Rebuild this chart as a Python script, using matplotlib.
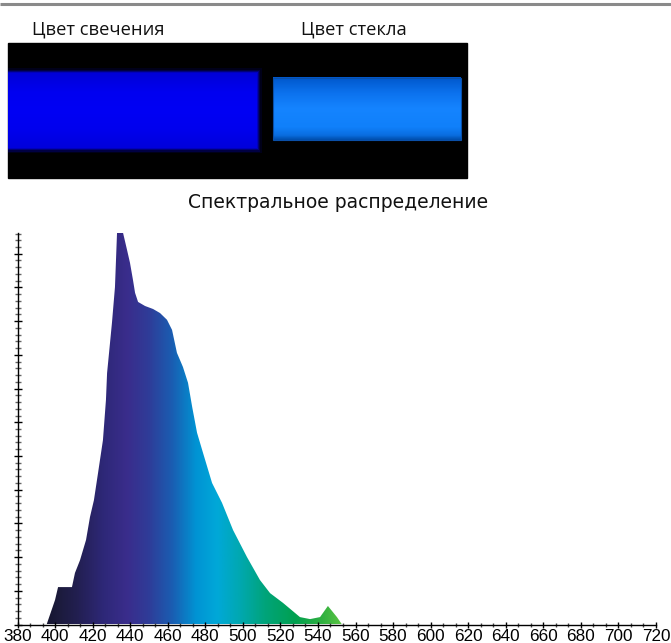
import numpy as np
import matplotlib
matplotlib.use("Agg")
import matplotlib.pyplot as plt
from matplotlib.colors import LinearSegmentedColormap
from matplotlib.patches import Rectangle, Polygon
from matplotlib.ticker import MultipleLocator

# ---------------- data ----------------
labels_top = ["Цвет свечения", "Цвет стекла"]
title = "Спектральное распределение"

wavelength = [395.5, 398.9, 400.0, 401.6, 409.0, 410.6, 413.3, 416.5, 418.6, 420.7,
              422.9, 425.5, 427.1, 427.7, 430.3, 431.9, 433.0, 436.2, 438.3, 439.9,
              441.5, 442.6, 444.2, 447.9, 452.2, 455.9, 459.6, 462.3, 464.9, 468.1,
              470.8, 473.0, 475.6, 478.8, 483.6, 488.9, 494.8, 502.2, 509.1, 514.5,
              521.4, 530.4, 535.8, 541.1, 545.3, 550.1, 552.8]
intensity = [0.00, 0.55, 0.73, 1.11, 1.11, 1.53, 1.91, 2.51, 3.19, 3.69,
             4.50, 5.47, 6.66, 7.46, 8.95, 10.01, 11.62, 11.62, 11.12, 10.73,
             10.22, 9.84, 9.57, 9.45, 9.36, 9.24, 9.04, 8.74, 8.06, 7.64,
             7.17, 6.46, 5.69, 5.09, 4.20, 3.61, 2.80, 2.00, 1.32, 0.93,
             0.64, 0.22, 0.16, 0.22, 0.55, 0.22, 0.00]
x_ticks = list(range(380, 721, 20))
x_min, x_max = 380, 720
y_min, y_max = 0, 11.63

# ---------------- figure ----------------
W, H = 671, 643
fig = plt.figure(figsize=(W / 100, H / 100), dpi=100)
fig.patch.set_facecolor("white")

# overlay axes in pixel coordinates for the header
hdr = fig.add_axes([0, 0, 1, 1])
hdr.set_xlim(0, W)
hdr.set_ylim(H, 0)
hdr.axis("off")
hdr.patch.set_alpha(0)

hdr.plot([0, W], [4, 4], color="#8a8a8a", lw=2.2, solid_capstyle="butt")
hdr.text(98, 29, labels_top[0], ha="center", va="center", fontsize=13.2,
         family="Open Sans", color="#111111")
hdr.text(354, 29, labels_top[1], ha="center", va="center", fontsize=13.2,
         family="Open Sans", color="#111111")

# black panel
hdr.add_patch(Rectangle((8.3, 43.3), 458.4, 134.4, color="black", zorder=1))

# glowing blue bar
for pad, a in [(5, 0.10), (3.5, 0.18), (2, 0.30), (1, 0.5)]:
    hdr.add_patch(Rectangle((8.3, 73 - pad), 248.4 + pad, 75 + 2 * pad,
                            color="#0000ff", alpha=a, lw=0, zorder=2))
glow = np.linspace(0, 1, 60).reshape(-1, 1)
cm_left = LinearSegmentedColormap.from_list(
    "l", ["#0000d8", "#0000f0", "#0000f4", "#0000ee", "#0000dc"])
hdr.imshow(glow, cmap=cm_left, extent=[8.3, 256.7, 148, 73], aspect="auto",
           zorder=3, interpolation="bilinear")

# glass colour bar
cm_right = LinearSegmentedColormap.from_list(
    "r", [(0, "#0058cc"), (0.25, "#0c72ee"), (0.5, "#1584ff"),
          (0.8, "#1080fa"), (0.93, "#0a6ee0"), (1, "#0050b0")])
hdr.imshow(glow, cmap=cm_right, extent=[272.7, 460.7, 140, 77.7], aspect="auto",
           zorder=3, interpolation="bilinear")
hdr.add_patch(Rectangle((272.7, 77.7), 188, 62.3, fill=False, ec="#0a4fa8",
                        lw=0.8, zorder=4))

hdr.text(338, 202, title, ha="center", va="center", fontsize=13.5,
         family="DejaVu Sans", color="#111111")

# ---------------- spectrum ----------------
ax = fig.add_axes([17.5 / W, (H - 624.5) / H, (656 - 17.5) / W, (624.5 - 232.5) / H])
ax.set_xlim(x_min, x_max)
ax.set_ylim(y_min, y_max)
ax.patch.set_alpha(0)

spec_cmap = LinearSegmentedColormap.from_list("spec", [
    (0.00, "#151530"), (0.04, "#1c1b3c"), (0.10, "#221f50"), (0.19, "#2e2878"),
    (0.27, "#3a2d8c"), (0.34, "#2f3c98"), (0.42, "#1a5eb2"), (0.50, "#0094d4"),
    (0.57, "#00a8d8"), (0.65, "#00a8ae"), (0.73, "#00a47a"), (0.83, "#00a050"),
    (0.92, "#30b040"), (1.00, "#64c844")])
grad = np.linspace(0, 1, 400).reshape(1, -1)
img = ax.imshow(grad, cmap=spec_cmap, extent=[395, 555, y_min, y_max],
                aspect="auto", interpolation="bilinear", zorder=1)
poly_pts = np.column_stack([wavelength, intensity])
poly = Polygon(poly_pts, closed=True, facecolor="none", edgecolor="none",
               transform=ax.transData)
ax.add_patch(poly)
img.set_clip_path(poly)
ax.set_xlim(x_min, x_max)
ax.set_ylim(y_min, y_max)

for s in ["top", "right"]:
    ax.spines[s].set_visible(False)
for s in ["left", "bottom"]:
    ax.spines[s].set_color("black")
    ax.spines[s].set_linewidth(1.0)
    ax.spines[s].set_zorder(5)

ax.set_xticks(x_ticks)
ax.set_xticklabels([str(t) for t in x_ticks])
ax.xaxis.set_minor_locator(MultipleLocator(20 / 3))
ax.yaxis.set_major_locator(MultipleLocator(1))
ax.yaxis.set_minor_locator(MultipleLocator(0.2))
ax.tick_params(axis="y", which="major", direction="inout", length=6, width=1,
               color="black", labelleft=False)
ax.tick_params(axis="y", which="minor", direction="inout", length=3.8, width=1,
               color="#666666")
ax.tick_params(axis="x", which="major", direction="inout", length=5, width=1,
               color="black", labelsize=12.3, pad=0.5)
ax.tick_params(axis="x", which="minor", direction="inout", length=3, width=1,
               color="#444444")
for lab in ax.get_xticklabels():
    lab.set_family("Liberation Sans")

fig.savefig("out.png", dpi=100, facecolor="white")
